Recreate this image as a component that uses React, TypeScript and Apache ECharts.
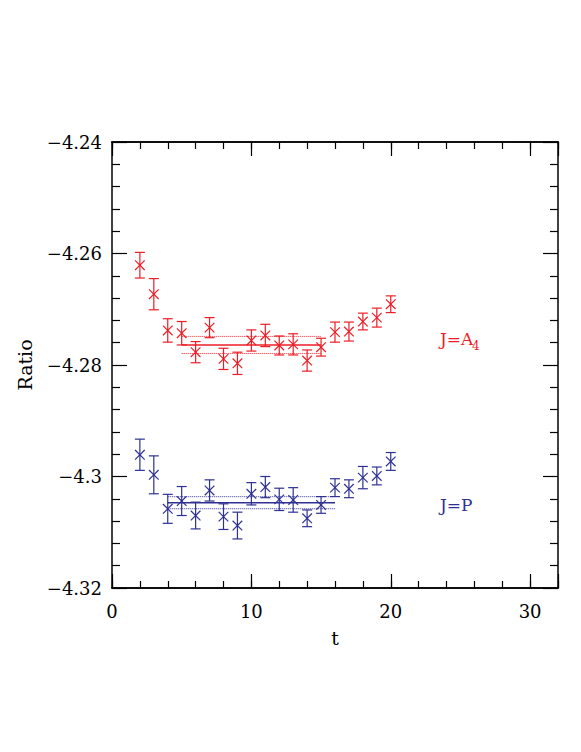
import React, { useEffect, useRef } from "react";
import * as echarts from "echarts";

// ---- data ----
const tValues = [2, 3, 4, 5, 6, 7, 8, 9, 10, 11, 12, 13, 14, 15, 16, 17, 18, 19, 20];
const redVals = [-4.2621, -4.2673, -4.2738, -4.2743, -4.2777, -4.2733, -4.2789, -4.2797, -4.2756, -4.2747, -4.2765, -4.2763, -4.2792, -4.2768, -4.2741, -4.2740, -4.2722, -4.2715, -4.2691];
const redErrs = [0.0023, 0.0028, 0.0021, 0.0021, 0.0019, 0.0018, 0.0019, 0.0020, 0.0019, 0.0020, 0.0017, 0.0019, 0.0019, 0.0016, 0.0018, 0.0017, 0.0015, 0.0017, 0.0015];
const blueVals = [-4.2961, -4.2997, -4.3058, -4.3044, -4.3070, -4.3025, -4.3072, -4.3088, -4.3031, -4.3019, -4.3041, -4.3042, -4.3075, -4.3051, -4.3020, -4.3022, -4.3002, -4.2999, -4.2973];
const blueErrs = [0.0028, 0.0034, 0.0026, 0.0026, 0.0024, 0.0019, 0.0023, 0.0024, 0.0020, 0.0019, 0.0020, 0.0022, 0.0015, 0.0015, 0.0016, 0.0016, 0.0020, 0.0016, 0.0016];
const redFit = { from: 5, to: 15, value: -4.2764, err: 0.00153 };
const blueFit = { from: 4, to: 16, value: -4.3047, err: 0.00108 };
const xTickLabels = ["0", "10", "20", "30"];
const yTickLabels = ["−4.24", "−4.26", "−4.28", "−4.3", "−4.32"];

const RED = "#ee1c25";
const BLUE = "#2e3192";
const FONT = "DejaVu Serif";

function errSeries(vals: number[], errs: number[], color: string) {
  return {
    type: "custom",
    xAxisIndex: 0,
    yAxisIndex: 0,
    data: tValues.map((t, i) => [t, vals[i], errs[i]]),
    renderItem: (params: any, api: any) => {
      const x = api.value(0);
      const y = api.value(1);
      const e = api.value(2);
      const c = api.coord([x, y]);
      const top = api.coord([x, y + e]);
      const bot = api.coord([x, y - e]);
      const s = 4.8;
      const cap = 5;
      const st = { stroke: color, lineWidth: 1.2 };
      return {
        type: "group",
        children: [
          { type: "line", shape: { x1: c[0], y1: top[1], x2: c[0], y2: bot[1] }, style: st },
          { type: "line", shape: { x1: c[0] - cap, y1: top[1], x2: c[0] + cap, y2: top[1] }, style: st },
          { type: "line", shape: { x1: c[0] - cap, y1: bot[1], x2: c[0] + cap, y2: bot[1] }, style: st },
          { type: "line", shape: { x1: c[0] - s, y1: c[1] - s, x2: c[0] + s, y2: c[1] + s }, style: st },
          { type: "line", shape: { x1: c[0] - s, y1: c[1] + s, x2: c[0] + s, y2: c[1] - s }, style: st },
        ],
      };
    },
  };
}

function fitLines(fit: { from: number; to: number; value: number; err: number }, color: string) {
  const mk = (v: number, type: string, w: number) => ({
    type: "line",
    xAxisIndex: 0,
    yAxisIndex: 0,
    showSymbol: false,
    symbol: "none",
    data: [
      [fit.from, v],
      [fit.to, v],
    ],
    lineStyle: { color, width: w, type },
  });
  return [mk(fit.value, "solid", 1.5), mk(fit.value + fit.err, "dotted", 1), mk(fit.value - fit.err, "dotted", 1)];
}

export default function App() {
  const ref = useRef<HTMLDivElement>(null);
  useEffect(() => {
    document.body.style.margin = "0";
    const chart = echarts.init(ref.current!, undefined, { renderer: "svg" });
    const axisLine = { show: true, onZero: false, lineStyle: { color: "#000", width: 1.5 } };
    const tickStyle = { color: "#000", width: 1.2 };
    const xBase = { type: "value", min: 0, max: 32, splitLine: { show: false }, axisLine };
    const yBase = { type: "value", min: -4.32, max: -4.24, interval: 0.02, splitLine: { show: false }, axisLine };
    const xLabel = (v: number) => {
      const idx = [0, 10, 20, 30].indexOf(Math.round(v * 1000) / 1000);
      return idx >= 0 ? xTickLabels[idx] : "";
    };
    const yLabel = (v: number) => {
      const idx = Math.round((-4.24 - v) / 0.02);
      return idx >= 0 && idx < yTickLabels.length ? yTickLabels[idx] : "";
    };
    chart.setOption({
      animation: false,
      backgroundColor: "#fff",
      grid: { left: 112, top: 142, width: 446, height: 446, containLabel: false },
      xAxis: [
        {
          ...xBase,
          position: "bottom",
          interval: 10,
          axisTick: { inside: true, length: 14, lineStyle: tickStyle },
          axisLabel: { formatter: xLabel, fontSize: 18, fontFamily: FONT, color: "#000", margin: 14 },
          name: "t",
          nameLocation: "middle",
          nameGap: 40,
          nameTextStyle: { fontSize: 19, fontFamily: FONT, color: "#000" },
        },
        { ...xBase, position: "bottom", interval: 2, axisTick: { inside: true, length: 7, lineStyle: tickStyle }, axisLabel: { show: false } },
        { ...xBase, position: "top", interval: 10, axisTick: { inside: true, length: 14, lineStyle: tickStyle }, axisLabel: { show: false } },
        { ...xBase, position: "top", interval: 2, axisTick: { inside: true, length: 7, lineStyle: tickStyle }, axisLabel: { show: false } },
      ],
      yAxis: [
        {
          ...yBase,
          position: "left",
          axisTick: { inside: true, length: 15, lineStyle: tickStyle },
          minorTick: { show: true, splitNumber: 5, length: 8, lineStyle: tickStyle },
          axisLabel: { formatter: yLabel, fontSize: 18, fontFamily: FONT, color: "#000", margin: 10 },
          name: "Ratio",
          nameLocation: "middle",
          nameGap: 78,
          nameTextStyle: { fontSize: 19, fontFamily: FONT, color: "#000" },
        },
        {
          ...yBase,
          position: "right",
          axisTick: { inside: true, length: 15, lineStyle: tickStyle },
          minorTick: { show: true, splitNumber: 5, length: 8, lineStyle: tickStyle },
          axisLabel: { show: false },
        },
      ],
      graphic: [
        { type: "text", x: 440, y: 339, style: { text: "J=A", fill: RED, font: `17px '${FONT}'`, verticalAlign: "middle", textAlign: "left" } },
        { type: "text", x: 472, y: 346, style: { text: "4", fill: RED, font: `12px '${FONT}'`, verticalAlign: "middle", textAlign: "left" } },
        { type: "text", x: 440, y: 505, style: { text: "J=P", fill: BLUE, font: `17px '${FONT}'`, verticalAlign: "middle", textAlign: "left" } },
      ],
      series: [
        ...fitLines(redFit, RED),
        ...fitLines(blueFit, BLUE),
        errSeries(redVals, redErrs, RED),
        errSeries(blueVals, blueErrs, BLUE),
      ],
    });
    return () => chart.dispose();
  }, []);
  return <div ref={ref} style={{ width: 581, height: 752 }} />;
}
